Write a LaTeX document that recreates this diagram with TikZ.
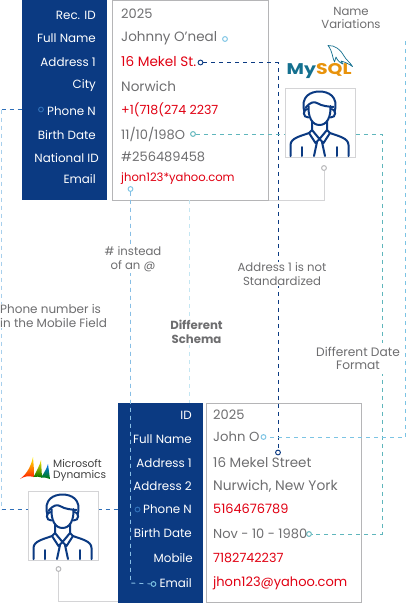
\documentclass[tikz,border=0pt]{standalone}
\usepackage{fontspec}
\setmainfont{Poppins}
\definecolor{navy}{HTML}{0B3A82}
\definecolor{greytxt}{HTML}{6E6E70}
\definecolor{redtxt}{HTML}{E00012}
\definecolor{boxline}{HTML}{B5B5B7}
\definecolor{photoline}{HTML}{D4D4D6}
\definecolor{teal1}{HTML}{5FB6BC}
\definecolor{sky}{HTML}{7CC4E4}
\definecolor{midblue}{HTML}{5FA8DC}
\definecolor{palesky}{HTML}{C4E6F2}
\definecolor{phoneblue}{HTML}{2F6FB8}
\definecolor{dolphin}{HTML}{14708F}
\tikzset{
 x=1pt,y=-1pt,
 lab/.style={anchor=east,text=white,font=\fontsize{11.9}{13}\selectfont,inner sep=0pt},
 val/.style={anchor=west,text=greytxt,font=\fontsize{13}{14}\selectfont,inner sep=0pt},
 bad/.style={anchor=west,text=redtxt,font=\fontsize{13}{14}\selectfont,inner sep=0pt},
 note/.style={text=greytxt,font=\fontsize{11.7}{13.8}\selectfont,align=center,inner sep=1pt},
 dot/.style={circle,draw=#1,fill=white,line width=1pt,minimum size=4.8pt,inner sep=0pt},
 dash1/.style={dash pattern=on 4pt off 4pt,line width=.9pt},
 personicon/.pic={
  \begin{scope}[draw=navy,line width=2pt,line cap=round,line join=round]
  \draw (19.5,24) .. controls (15,8) and (26,3.5) .. (34.5,3.5) .. controls (43,3.5) and (54,8) .. (49.5,24);
  \draw (23.5,18) .. controls (23,29) and (27,37) .. (34.5,37) .. controls (42,37) and (46,29) .. (45.5,18);
  \draw (20.5,20) .. controls (25,14) and (29,13) .. (33,15.5) .. controls (37,18) and (43,18.5) .. (48.5,19);
  \draw (22.5,21) .. controls (17.5,21) and (17.5,30) .. (23.5,29.5);
  \draw (46.5,21) .. controls (51.5,21) and (51.5,30) .. (45.5,29.5);
  \draw (27,33) -- (27,42) -- (34.5,51) -- (42,42) -- (42,33);
  \draw (27,42) -- (24,45) -- (30.5,55) -- (34.5,51) -- (38.5,55) -- (45,45) -- (42,42);
  \draw (32,54) -- (29,68);
  \draw (37,54) -- (40,68);
  \draw (5.5,68) -- (5.5,57) .. controls (5.5,50) and (16,48) .. (24,45);
  \draw (63.5,68) -- (63.5,57) .. controls (63.5,50) and (53,48) .. (45,45);
  \draw (17,59) -- (17,68);
  \draw (52,59) -- (52,68);
  \end{scope}
 }
}
\begin{document}
\begin{tikzpicture}
\useasboundingbox (0,0) rectangle (406,603);
% coordinates
\coordinate (nameEnd) at (405.5,41);
\coordinate (nameCorner) at (405.5,437);
\coordinate (addrCorner) at (278,62.5);
\coordinate (dateCornerT) at (382,134);
\coordinate (dateCornerB) at (382,534);
\coordinate (phoneL) at (1.5,109.5);
\coordinate (phoneB) at (1.5,509.5);
\coordinate (emailCorner) at (130.5,583);
\coordinate (schemaT) at (189.5,200);
\coordinate (schemaB) at (189.5,403);
% top panels
\node[draw=boxline,line width=.9pt,minimum width=156pt,minimum height=200pt,anchor=north west,inner sep=0pt] (box1) at (112,0) {};
\node[fill=navy,minimum width=85pt,minimum height=200pt,anchor=north west,inner sep=0pt] (panel1) at (22,0) {};
% bottom white box
\node[draw=boxline,line width=.9pt,minimum width=155pt,minimum height=199pt,anchor=north west,inner sep=0pt] (box2) at (206,403) {};
% light schema line
\draw[palesky,dash1] (schemaT) -- (schemaB);
% connectors behind panels
\draw[midblue!55!white,dash1] (phoneL) -- (phoneB);
\draw[phoneblue,dash1] (phoneB) -- (118,509.5);
% bottom panel
\node[fill=navy,minimum width=85pt,minimum height=200.5pt,anchor=north west,inner sep=0pt] (panel2) at (118,402.5) {};
% dots
\node[dot=sky] (dName1) at (225,39) {};
\node[dot=navy] (dAddr1) at (200.5,62.5) {};
\node[dot=phoneblue,fill=navy] (dPhone1) at (41,109.5) {};
\node[dot=teal1] (dDate1) at (193,134) {};
\node[dot=sky] (dMail1) at (130.5,189) {};
\node[dot=sky] (dName2) at (263.5,437) {};
\node[dot=navy] (dAddr2) at (278,452.5) {};
\node[dot=phoneblue,fill=navy] (dPhone2) at (137.5,509.5) {};
\node[dot=teal1] (dDate2) at (309,534) {};
\node[dot=sky,fill=navy] (dMail2) at (153.5,584) {};
% connectors
\draw[navy,dash1] (dAddr1) -- (addrCorner) -- (dAddr2);
\draw[teal1,dash1] (dDate1) -- (dateCornerT) -- (dateCornerB) -- (dDate2);
\draw[sky,dash1] (nameEnd) -- (nameCorner) -- (dName2);
\draw[phoneblue,dash1] (phoneL) -- (22,109.5);
\draw[midblue!75!white,dash1] (dMail1) -- (emailCorner) -- (dMail2);
% labels top
\node[lab] (l1a) at (96,15) {Rec. ID};
\node[lab] (l1b) at (96,38) {Full Name};
\node[lab] (l1c) at (96,62) {Address 1};
\node[lab] (l1d) at (96,86) {City};
\node[lab] (l1e) at (96,111) {Phone N};
\node[lab] (l1f) at (96,135) {Birth Date};
\node[lab] (l1g) at (99,158) {National ID};
\node[lab] (l1h) at (96,179) {Email};
\node[val] (v1a) at (121,14) {2025};
\node[val,font=\fontsize{13.5}{14}\selectfont] (v1b) at (121,38) {Johnny O’neal};
\node[bad,font=\fontsize{13.6}{14}\selectfont] (v1c) at (121,62) {16 Mekel St.};
\node[val,font=\fontsize{13.6}{14}\selectfont] (v1d) at (121,86) {Norwich};
\node[bad,font=\fontsize{12.6}{14}\selectfont] (v1e) at (121,110) {+1(718(274 2237};
\node[val] (v1f) at (121,134) {11/10/198O};
\node[val] (v1g) at (121,157) {\#256489458};
\node[bad,font=\fontsize{11.6}{14}\selectfont] (v1h) at (121,179) {jhon123*yahoo.com};
% labels bottom
\node[lab] (l2a) at (192,415) {ID};
\node[lab] (l2b) at (192,439) {Full Name};
\node[lab] (l2c) at (192,463) {Address 1};
\node[lab] (l2d) at (192,486) {Address 2};
\node[lab] (l2e) at (192,509) {Phone N};
\node[lab] (l2f) at (192,533) {Birth Date};
\node[lab] (l2g) at (193,558) {Mobile};
\node[lab] (l2h) at (192,583) {Email};
\node[val] (v2a) at (213,415) {2025};
\node[val,font=\fontsize{13.2}{14}\selectfont] (v2b) at (213,437) {John O};
\node[val,font=\fontsize{13.5}{14}\selectfont] (v2c) at (213,463) {16 Mekel Street};
\node[val,font=\fontsize{13.8}{14}\selectfont] (v2d) at (213,486) {Nurwich, New York};
\node[bad,font=\fontsize{12.9}{14}\selectfont] (v2e) at (213,509) {5164676789};
\node[val] (v2f) at (213,534) {Nov - 10 - 1980};
\node[bad,font=\fontsize{12.7}{14}\selectfont] (v2g) at (213,558) {7182742237};
\node[bad] (v2h) at (213,583) {jhon123@yahoo.com};
% notes
\node[note,fill=white] (nName) at (351,18) {Name\\Variations};
\node[note,fill=white] (nMail) at (133,259) {\# instead\\of an @};
\node[note,fill=white] (nAddr) at (282,274) {Address 1 is not\\Standardized};
\node[note,fill=white,anchor=west,align=left,inner sep=0pt,font=\fontsize{12}{13.8}\selectfont] (nPhone) at (0,316) {Phone number is\\in the Mobile Field};
\node[note,fill=white,font=\bfseries\fontsize{11.7}{14.4}\selectfont] (nSchema) at (196.5,332) {Different\\Schema};
\node[note,fill=white,inner ysep=4pt,font=\fontsize{12.2}{13.2}\selectfont] (nDate) at (358,358.5) {Different Date\\Format};
% photo boxes
\node[draw=photoline,fill=white,line width=1pt,minimum width=70pt,minimum height=69pt,anchor=north west,inner sep=0pt] (photo1) at (285,88) {};
\pic at (285,88) {personicon};
\node[draw=photoline,fill=white,line width=1pt,minimum width=70pt,minimum height=69pt,anchor=north west,inner sep=0pt] (photo2) at (28,491) {};
\pic at (28,491) {personicon};
% photo connectors
\node[dot=boxline] (dP1) at (324,168) {};
\node[dot=boxline] (dP2) at (58.5,569) {};
\draw[photoline,line width=1pt] (dP1) |- (box1.south east);
\draw[photoline,line width=1pt] (dP2) |- (panel2.south west |- 0,601);
% MySQL logo
\node[anchor=west,inner sep=0pt,xscale=1.22,font=\bfseries\fontsize{15.5}{16}\selectfont] (mysql) at (286.5,71) {\textcolor{dolphin}{My}\textcolor[HTML]{E8930C}{SQL}};
\draw[dolphin,line width=.7pt,line join=round,line cap=round] (328,45.5) .. controls (335,45) and (341,50) .. (344,56) .. controls (346,60) and (350,62) .. (352.5,66.5) .. controls (349,64) and (345,62) .. (341,61) -- (343,64) .. controls (340,63) and (337,60) .. (336,57) .. controls (335,60) and (335,61) .. (334.5,62) .. controls (332,57) and (333,52) .. (328,45.5) -- cycle;
% Dynamics logo
\shade[bottom color=red!85!orange,top color=yellow!90!orange] (20,479) .. controls (27,474) and (31,466) .. (33,457) -- (34.5,477) .. controls (28,475.5) and (24,476.5) .. (20,479) -- cycle;
\shade[bottom color=green!45!black,top color=yellow!80!orange] (33.5,477) .. controls (36,472) and (40,465) .. (41,460) -- (42,477.5) .. controls (39,476.5) and (36,476.5) .. (33.5,477) -- cycle;
\shade[bottom color=green!50!black,top color=blue!55!cyan] (41,477.5) .. controls (44,473) and (47,468) .. (48,464) -- (50,479) .. controls (47,477.5) and (44,477.5) .. (41,477.5) -- cycle;
\node[anchor=west,inner sep=0pt,align=left,text=black!75,font=\fontsize{10.6}{11}\selectfont] (dyn) at (53,470) {Microsoft\\Dynamics};
\end{tikzpicture}
\end{document}
